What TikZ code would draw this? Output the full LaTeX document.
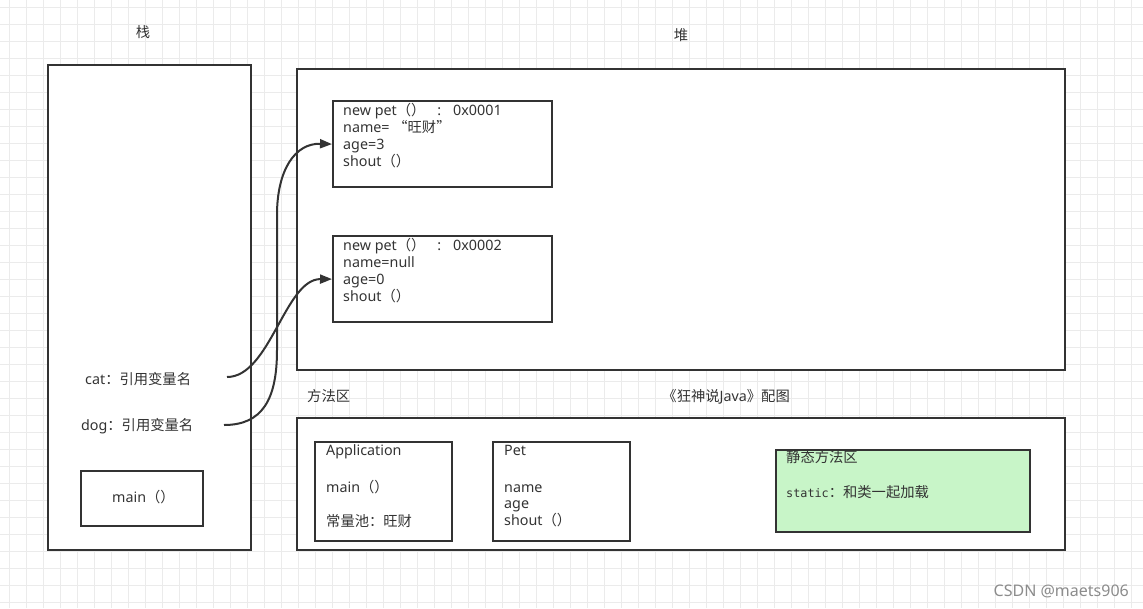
\documentclass[tikz,border=0pt]{standalone}
\usepackage{fontspec}
\setmainfont{Noto Sans}
\newfontfamily\cjk{Noto Sans CJK SC}
\newfontfamily\monof{DejaVu Sans Mono}
\usetikzlibrary{arrows.meta,calc}
\definecolor{ink}{HTML}{333333}
\definecolor{gridc}{HTML}{EBEBEB}
\definecolor{greenf}{HTML}{C8F5C8}
\definecolor{wmark}{HTML}{8C8C8C}
\begin{document}
\begin{tikzpicture}[x=1pt,y=-1pt,
  box/.style={draw=ink, line width=2.2pt, fill=white, inner sep=0, anchor=north west},
  txt/.style={anchor=base west, inner sep=0, text=ink, font=\fontsize{14.3}{17}\selectfont},
  ref/.style={draw=ink, line width=2pt, -{Triangle[length=12pt,width=9pt]}}]
\useasboundingbox (0,0) rectangle (1143,608);
\fill[white] (0,0) rectangle (1143,608);
\foreach \i in {0,...,66} \draw[gridc, line width=1pt] (9.3+17*\i,0) -- (9.3+17*\i,608);
\foreach \i in {0,...,35} \draw[gridc, line width=1pt] (0,7.3+17*\i) -- (1143,7.3+17*\i);

% containers
\node[box, minimum width=203, minimum height=485] (stack) at (47,64) {};
\node[box, minimum width=768, minimum height=301] (heap) at (296,68) {};
\node[box, minimum width=768, minimum height=132] (method) at (296,417) {};
\node[box, minimum width=219, minimum height=86] (o1) at (332,100) {};
\node[box, minimum width=219, minimum height=86] (o2) at (332,235) {};
\node[box, minimum width=122, minimum height=55] (mainb) at (80,470) {};
\node[box, minimum width=137, minimum height=99] (app) at (314,441) {};
\node[box, minimum width=137, minimum height=99] (pet) at (492,441) {};
\node[box, fill=greenf, minimum width=254, minimum height=82] (stat) at (775,449) {};

% titles
\node[txt, anchor=base] (lstack) at (143,37) {\cjk 栈};
\node[txt, anchor=base] (lheap) at (681,40) {\cjk 堆};
\node[txt] (lmethod) at (307,401) {\cjk 方法区};
\node[txt, anchor=base east] (lbook) at (790,401) {{\cjk 《狂神说}Java{\cjk 》配图}};

% object 1
\node[txt] (t1a) at (343,115.5) {new pet{\cjk （）}\hspace{12pt}:\hspace{12pt}0x0001};
\node[txt] (t1b) at (343,132.5) {name= {\cjk “旺财”}};
\node[txt] (t1c) at (343,149.5) {age=3};
\node[txt] (t1d) at (343,166.5) {shout{\cjk （）}};
% object 2
\node[txt] (t2a) at (343,250.7) {new pet{\cjk （）}\hspace{12pt}:\hspace{12pt}0x0002};
\node[txt] (t2b) at (343,267.3) {name=null};
\node[txt] (t2c) at (343,284) {age=0};
\node[txt] (t2d) at (343,301) {shout{\cjk （）}};

% stack contents
\node[txt] (cat) at (85,384) {cat{\cjk ：引用变量名}};
\node[txt] (dog) at (81,430.5) {dog{\cjk ：引用变量名}};
\node[txt] (mtxt) at (112,502) {main{\cjk （）}};

% method area contents
\node[txt] (a1) at (326,455.7) {Application};
\node[txt] (a2) at (326,492.3) {main{\cjk （）}};
\node[txt] (a3) at (326,526) {\cjk 常量池：旺财};
\node[txt] (p1) at (504,455.7) {Pet};
\node[txt] (p2) at (504,492) {name};
\node[txt] (p3) at (504,508.5) {age};
\node[txt] (p4) at (504,525.5) {shout{\cjk （）}};
\node[txt] (s1) at (786,462) {\cjk 静态方法区};
\node[txt] (s2) at (786,497) {{\monof\fontsize{11.8}{13}\selectfont static}{\cjk ：和类一起加载}};

% references
\coordinate (catend) at (227,377);
\coordinate (dogend) at (224,425);
\draw[ref] (catend) .. controls (270,377) and (285,279) .. (o2.west);
\draw[ref] (dogend) .. controls (262,425) and (277,400) .. (277,350) -- (277,215) .. controls (277,170) and (295,143) .. (o1.west);

% watermark
\node[txt, anchor=base east, text=wmark, font=\fontsize{16}{19}\selectfont] (wm) at (1129,596) {CSDN @maets906};
\end{tikzpicture}
\end{document}
